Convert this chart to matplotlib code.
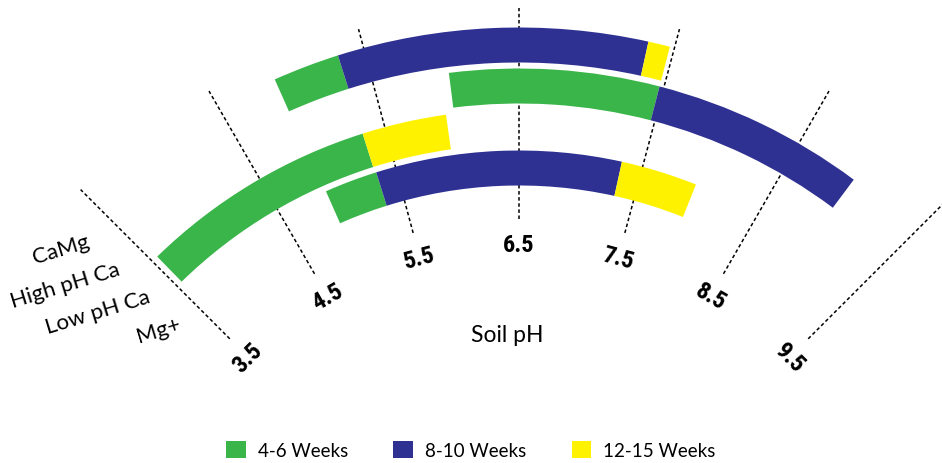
import numpy as np
import matplotlib
matplotlib.use("Agg")
import matplotlib.pyplot as plt
from matplotlib.patches import Patch
from matplotlib import font_manager as fm

# ---------------- data ----------------
ph_ticks = [3.5, 4.5, 5.5, 6.5, 7.5, 8.5, 9.5]
tick_labels = ["3.5", "4.5", "5.5", "6.5", "7.5", "8.5", "9.5"]

categories = ["CaMg", "High pH Ca", "Low pH Ca", "Mg+"]

classes = ["4-6 Weeks", "8-10 Weeks", "12-15 Weeks"]
class_colors = ["#3AB54A", "#2E3192", "#FFF200"]

# segment boundaries (soil pH) and the class of each segment
camg_bounds = [4.90, 5.33, 7.33, 7.47]
camg_classes = ["4-6 Weeks", "8-10 Weeks", "12-15 Weeks"]

highca_bounds = [6.02, 7.47, 8.95]
highca_classes = ["4-6 Weeks", "8-10 Weeks"]

lowca_bounds = [3.55, 5.33, 5.96]
lowca_classes = ["4-6 Weeks", "12-15 Weeks"]

mg_bounds = [4.91, 5.34, 7.33, 7.95]
mg_classes = ["4-6 Weeks", "8-10 Weeks", "12-15 Weeks"]

series = [(camg_bounds, camg_classes), (highca_bounds, highca_classes),
          (lowca_bounds, lowca_classes), (mg_bounds, mg_classes)]

# ---------------- geometry / style ----------------
W, H = 942, 464
DPI = 100
center_px = (519, 629)      # pole position in image pixels (from top-left)
R_MAX = 620                  # radius (px) of the polar axes
ph_mid, deg_per_ph = 6.5, 15.0

ring_r0, ring_step, ring_h = 583, 41, 35
grid_r0, grid_r1 = 409, 620
tick_r = 383

# pick a condensed bold face for the tick labels if one is installed
cond_family = "DejaVu Sans"
cond_stretch = "normal"
names = {f.name for f in fm.fontManager.ttflist}
for cand in ["Liberation Sans Narrow", "DejaVu Sans Condensed", "Roboto Condensed",
             "Open Sans Condensed", "Noto Sans Condensed"]:
    if cand in names:
        cond_family = cand
        break
else:
    if any(f.name == "DejaVu Sans" and f.stretch == "condensed" for f in fm.fontManager.ttflist):
        cond_stretch = "condensed"


def th(ph):
    return np.deg2rad((np.asarray(ph) - ph_mid) * deg_per_ph)


color_of = dict(zip(classes, class_colors))

fig = plt.figure(figsize=(W / DPI, H / DPI), dpi=DPI)
fig.patch.set_facecolor("white")

cx, cy = center_px
rect = [(cx - R_MAX) / W, (H - cy - R_MAX) / H, 2 * R_MAX / W, 2 * R_MAX / H]
ax = fig.add_axes(rect, projection="polar")
ax.set_theta_zero_location("N")
ax.set_theta_direction(-1)
ax.set_ylim(0, R_MAX)
ax.grid(False)
ax.set_xticks([])
ax.set_yticks([])
ax.spines["polar"].set_visible(False)
ax.patch.set_alpha(0)

# dotted radial grid lines + tick labels
for ph, lab in zip(ph_ticks, tick_labels):
    t = th(ph)
    ax.plot([t, t], [grid_r0, grid_r1], color="black", lw=1.1,
            linestyle=(0, (2.3, 1.7)), zorder=1, clip_on=False)
    ax.text(t, tick_r, lab, rotation=-(ph - ph_mid) * deg_per_ph,
            rotation_mode="anchor", ha="center", va="center",
            fontsize=17.5, fontweight="bold", fontstretch=cond_stretch,
            family=[cond_family, "DejaVu Sans"], color="black")

# bars
for i, (bounds, cls) in enumerate(series):
    r_c = ring_r0 - i * ring_step
    for a, b, c in zip(bounds[:-1], bounds[1:], cls):
        ax.bar(th(a), ring_h, width=th(b) - th(a), bottom=r_c - ring_h / 2,
               align="edge", color=color_of[c], edgecolor="none",
               linewidth=0, zorder=2)

# category labels
for i, name in enumerate(categories):
    r_c = ring_r0 - i * ring_step
    ax.text(th(3.3), r_c - 4, name, rotation=17, rotation_mode="anchor",
            ha="right", va="center", fontsize=16, family="Lato",
            color="black", clip_on=False)

# axis title
fig.text(507 / W, 1 - 336 / H, "Soil pH", ha="center", va="center",
         fontsize=16.5, family="Lato", color="black")

# legend
handles = [Patch(facecolor=c, edgecolor="none") for c in class_colors]
fig.legend(handles, classes, loc="center", bbox_to_anchor=(471 / W, 1 - 451 / H),
           ncol=3, frameon=False, prop={"family": "Lato", "size": 13.5},
           handlelength=1.05, handleheight=1.05, handletextpad=0.65,
           columnspacing=2.4, borderpad=0)

fig.savefig("out.png", dpi=DPI, facecolor="white")
